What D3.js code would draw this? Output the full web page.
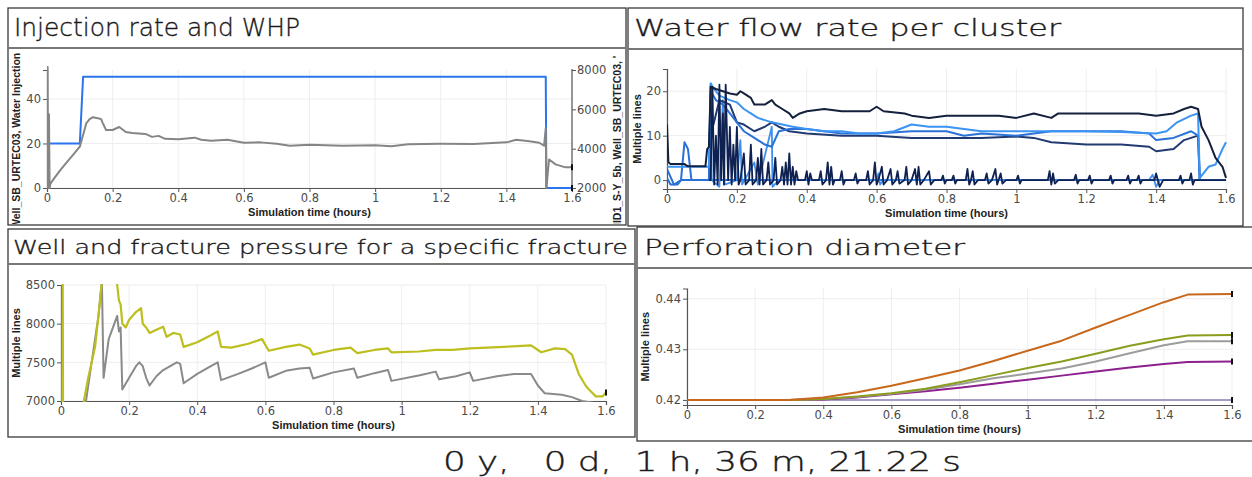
<!DOCTYPE html>
<html><head><meta charset="utf-8">
<script src="https://cdn.jsdelivr.net/npm/d3@7"></script>
<style>
html,body{margin:0;padding:0;background:#fff;}
svg{display:block;}
</style></head>
<body>
<script>
// ---------------- DATA ----------------
const xTicks = [0, 0.2, 0.4, 0.6, 0.8, 1, 1.2, 1.4, 1.6];
const xTickLabels = ["0", "0.2", "0.4", "0.6", "0.8", "1", "1.2", "1.4", "1.6"];
const xLabel = "Simulation time (hours)";

// Panel 1: Injection rate and WHP
const p1Title = "Injection rate and WHP";
const p1LeftTicks = [0, 20, 40];
const p1RightTicks = [2000, 4000, 6000, 8000];
const p1LeftLabel = "Well_SB_URTEC03, Water Injection";
const p1RightLabel = "IID1_S-Y_5b, Well_SB_URTEC03, '";
const injectionRate = [[0,0],[0.004,0],[0.005,20],[0.1,20],[0.11,50],[1.52,50],[1.522,0],[1.6,0]];
const whp = [[0,2000],[0.002,8150],[0.003,2000],[0.006,5750],[0.008,2000],[0.01,2200],[0.02,2450],[0.04,2900],[0.06,3300],[0.08,3700],[0.1,4100],[0.11,4700],[0.12,5300],[0.13,5500],[0.14,5600],[0.155,5550],[0.165,5500],[0.17,5300],[0.18,4950],[0.2,4950],[0.22,5100],[0.24,4850],[0.26,4800],[0.3,4750],[0.32,4600],[0.34,4650],[0.36,4500],[0.4,4480],[0.45,4560],[0.47,4450],[0.5,4400],[0.55,4450],[0.6,4300],[0.65,4320],[0.7,4250],[0.74,4150],[0.8,4200],[0.9,4150],[1.0,4170],[1.05,4120],[1.1,4230],[1.2,4250],[1.3,4240],[1.4,4320],[1.43,4450],[1.47,4380],[1.5,4300],[1.515,4150],[1.52,5050],[1.522,2000],[1.53,3450],[1.55,3200],[1.58,3050],[1.6,3050]];

// Panel 2: Water flow rate per cluster
const p2Title = "Water flow rate per cluster";
const p2YTicks = [0, 10, 20];
const p2YLabel = "Multiple lines";
const clusterA = [[0,12.5],[0.004,4],[0.01,3.6],[0.05,3.6],[0.06,3.1],[0.11,3.1],[0.115,7],[0.12,7.5],[0.125,21],[0.14,20.5],[0.16,20],[0.18,19.5],[0.2,19.2],[0.21,20],[0.22,19.5],[0.24,18.5],[0.25,17],[0.28,17],[0.3,18],[0.31,17],[0.33,16],[0.35,15],[0.36,14],[0.38,15],[0.4,15.5],[0.45,16],[0.5,15.5],[0.58,15.5],[0.6,16.5],[0.62,15.5],[0.68,15],[0.7,14.5],[0.75,14],[0.8,14.5],[0.9,14.5],[0.95,14.5],[1.0,14],[1.05,15],[1.1,14],[1.12,15],[1.2,15],[1.3,15],[1.35,15],[1.4,14.5],[1.45,15],[1.48,16],[1.5,16.5],[1.52,16],[1.53,12],[1.55,9],[1.57,5],[1.59,3],[1.6,0.5]];
const clusterB = [[0,3],[0.05,3],[0.1,3],[0.12,3],[0.125,21.8],[0.13,21],[0.15,19],[0.18,18],[0.2,17.5],[0.22,16],[0.24,15],[0.26,14],[0.28,13.5],[0.3,13],[0.33,12.5],[0.36,12],[0.4,11.5],[0.45,11],[0.5,11],[0.55,10.5],[0.6,10.5],[0.65,11],[0.7,12.5],[0.75,12],[0.8,12],[0.85,11.5],[0.9,11],[1.0,11],[1.1,11],[1.2,11],[1.3,10.8],[1.4,10.5],[1.43,11],[1.46,13],[1.5,14.5],[1.52,15],[1.525,0],[1.6,0]];
const clusterC = [[0,2.5],[0.02,-1],[0.04,0],[0.05,8.5],[0.06,7],[0.07,0],[0.12,0],[0.125,20],[0.14,18],[0.16,17],[0.18,15],[0.2,13],[0.22,11],[0.25,9.5],[0.28,8],[0.3,7.5],[0.32,11],[0.35,11.5],[0.4,11.5],[0.45,11],[0.5,10.5],[0.6,10.5],[0.7,11],[0.8,11],[0.85,10],[0.9,10.5],[1.0,10],[1.1,11],[1.2,11],[1.3,11],[1.38,10.5],[1.4,9],[1.45,9.5],[1.5,11],[1.52,10],[1.525,0],[1.6,0]];
const clusterD = [[0.12,0],[0.125,10],[0.15,18],[0.18,17],[0.2,13],[0.22,12.5],[0.25,11],[0.28,12],[0.3,13],[0.32,12],[0.35,11],[0.4,10.5],[0.5,10],[0.6,10],[0.7,9.5],[0.8,9.5],[0.9,9.5],[1.0,9.8],[1.05,9.5],[1.1,8.5],[1.2,8],[1.3,8],[1.38,7.5],[1.4,6.5],[1.45,7],[1.48,9],[1.52,10],[1.525,0],[1.6,0]];
const clusterE = [[1.52,0],[1.55,3],[1.57,3.5],[1.59,7],[1.6,8.5]];
const clusterZero = [[0,0.5],[0.01,-1],[0.03,-1],[0.04,0],[1.6,0]];
const clusterSpikesBlue = [[0.12,0],[0.125,21.5],[0.128,0],[0.15,-1.5],[0.16,18],[0.165,-1],[0.2,0],[0.21,9],[0.215,-1],[0.25,4],[0.26,-1],[0.3,12],[0.302,-1.5],[0.32,0],[0.6,0],[0.605,1.5],[0.61,-1],[0.62,0],[1.38,0],[1.39,1.2],[1.4,-1.5],[1.41,0],[1.6,0]];
const clusterSpikesDark = [[0.12,0],[0.125,0],[0.13,21],[0.135,-1],[0.14,10],[0.145,-1],[0.15,21.5],[0.155,0],[0.16,15],[0.163,-1],[0.168,21.5],[0.175,0],[0.18,12],[0.185,-1],[0.19,8],[0.195,0],[0.2,12],[0.205,-1],[0.21,0],[0.22,6],[0.225,-1],[0.235,0],[0.24,8],[0.245,-1],[0.255,0],[0.26,5],[0.265,-1],[0.27,7],[0.275,-1],[0.285,0],[0.29,4],[0.295,-1],[0.305,0],[0.31,5],[0.315,-1],[0.325,0],[0.33,3],[0.335,-1],[0.34,4],[0.345,-1],[0.35,6],[0.355,-1],[0.36,3],[0.365,-1],[0.37,2],[0.375,0],[0.395,0],[0.4,2],[0.405,-1],[0.41,1.5],[0.415,0],[0.435,0],[0.44,2],[0.445,-1],[0.455,0],[0.46,4],[0.465,-1],[0.47,3],[0.475,-1],[0.48,0],[0.495,0],[0.5,2],[0.505,-1],[0.51,0],[0.535,0],[0.54,1.5],[0.545,-0.8],[0.55,0],[0.57,0],[0.575,2],[0.58,-1],[0.59,0],[0.595,4],[0.6,-1],[0.605,0],[0.615,3],[0.62,-1],[0.63,0],[0.64,2.5],[0.645,-1],[0.655,0],[0.66,2],[0.665,-0.8],[0.68,0],[0.685,3],[0.69,-1],[0.7,0],[0.71,2.5],[0.715,-1],[0.72,3],[0.725,-1],[0.735,0],[0.75,2],[0.755,-1],[0.765,0],[0.785,0],[0.79,1],[0.795,-0.8],[0.8,0],[0.815,0],[0.82,1],[0.825,-0.8],[0.83,0],[0.855,0],[0.86,2.5],[0.865,-1],[0.87,0],[0.875,2],[0.88,-1],[0.89,0],[0.91,0],[0.915,1.5],[0.92,-0.8],[0.93,0],[0.94,2.5],[0.945,-1],[0.955,1.5],[0.96,-0.8],[0.97,0],[1.0,0],[1.005,1],[1.01,-0.8],[1.015,0],[1.09,0],[1.095,2],[1.1,-1],[1.105,1.5],[1.11,-0.8],[1.12,0],[1.165,0],[1.17,1.2],[1.175,-0.8],[1.18,0],[1.205,0],[1.21,1],[1.215,-0.8],[1.22,0],[1.265,0],[1.27,1],[1.275,-0.8],[1.28,0],[1.315,0],[1.32,1],[1.325,-0.8],[1.33,0],[1.345,0],[1.35,1],[1.355,-0.8],[1.36,0],[1.395,0],[1.4,1.5],[1.41,-1.5],[1.42,0],[1.465,0],[1.47,1],[1.475,-0.8],[1.48,0],[1.495,0],[1.5,1.5],[1.505,-1],[1.51,0],[1.6,0]];

// Panel 3: Well and fracture pressure
const p3Title = "Well and fracture pressure for a specific fracture";
const p3YTicks = [7000, 7500, 8000, 8500];
const fracturePressure = [[0.004,6900],[0.005,8600],[0.006,6900],[0.065,6950],[0.08,7300],[0.1,7700],[0.11,8100],[0.12,8550],[0.16,8600],[0.165,8500],[0.17,8300],[0.175,8250],[0.18,8000],[0.19,7950],[0.2,8050],[0.22,8150],[0.235,8200],[0.24,8000],[0.25,7950],[0.26,7880],[0.28,7920],[0.3,7960],[0.31,7830],[0.33,7880],[0.34,7870],[0.35,7860],[0.36,7700],[0.4,7760],[0.44,7850],[0.46,7900],[0.47,7700],[0.5,7690],[0.55,7740],[0.59,7800],[0.61,7650],[0.66,7700],[0.7,7730],[0.73,7680],[0.74,7600],[0.8,7660],[0.85,7690],[0.87,7620],[0.92,7660],[0.96,7680],[0.97,7630],[1.05,7640],[1.1,7660],[1.15,7660],[1.2,7680],[1.25,7690],[1.3,7700],[1.38,7720],[1.41,7630],[1.45,7680],[1.48,7670],[1.5,7600],[1.52,7350],[1.54,7200],[1.55,7150],[1.57,7060],[1.59,7060],[1.6,7110]];
const wellPressure = [[0.07,6900],[0.09,7500],[0.11,8100],[0.12,8550],[0.125,7300],[0.14,7800],[0.165,8100],[0.17,7900],[0.175,7950],[0.18,7150],[0.2,7300],[0.22,7450],[0.23,7500],[0.24,7450],[0.25,7300],[0.26,7200],[0.28,7320],[0.3,7400],[0.34,7500],[0.35,7480],[0.36,7230],[0.4,7350],[0.44,7450],[0.46,7500],[0.47,7270],[0.52,7350],[0.56,7420],[0.6,7500],[0.61,7300],[0.66,7390],[0.7,7420],[0.73,7430],[0.74,7290],[0.8,7370],[0.86,7420],[0.87,7300],[0.92,7360],[0.96,7400],[0.97,7260],[1.05,7330],[1.1,7380],[1.11,7280],[1.16,7320],[1.2,7370],[1.21,7260],[1.28,7320],[1.33,7350],[1.38,7350],[1.4,7200],[1.42,7100],[1.47,7080],[1.5,7050],[1.53,7000],[1.6,6950]];

// Panel 4: Perforation diameter
const p4Title = "Perforation diameter";
const p4YTicks = [0.42, 0.43, 0.44];
const perfOrange = [[0,0.42],[0.3,0.42],[0.4,0.4205],[0.5,0.4215],[0.6,0.4228],[0.7,0.4243],[0.8,0.4258],[0.9,0.4277],[1.0,0.4297],[1.1,0.4317],[1.2,0.4343],[1.3,0.4368],[1.4,0.4393],[1.47,0.4408],[1.6,0.4409]];
const perfOlive = [[0,0.42],[0.3,0.42],[0.4,0.4202],[0.5,0.4207],[0.6,0.4213],[0.7,0.4222],[0.8,0.4235],[0.9,0.4249],[1.0,0.4263],[1.1,0.4276],[1.2,0.4291],[1.3,0.4307],[1.4,0.4320],[1.47,0.4327],[1.6,0.4328]];
const perfGray = [[0,0.42],[0.3,0.42],[0.4,0.4202],[0.5,0.4206],[0.6,0.4212],[0.7,0.4220],[0.8,0.4231],[0.9,0.4243],[1.0,0.4252],[1.1,0.4262],[1.2,0.4276],[1.3,0.4292],[1.4,0.4308],[1.47,0.4316],[1.6,0.4316]];
const perfPurple = [[0,0.42],[0.3,0.42],[0.4,0.4201],[0.5,0.4205],[0.6,0.4211],[0.7,0.4217],[0.8,0.4224],[0.9,0.4232],[1.0,0.4240],[1.1,0.4248],[1.2,0.4256],[1.3,0.4264],[1.4,0.4271],[1.47,0.4275],[1.6,0.4276]];
const perfFlat = [[0,0.42],[1.6,0.42]];

const timestamp = "0 y,   0 d,  1 h, 36 m, 21.22 s";

// ---------------- DRAW ----------------
const W = 1252, H = 477;
const svg = d3.select("body").append("svg").attr("width", W).attr("height", H);
const titleFont = "'DejaVu Sans', sans-serif";
const tickFont = "'DejaVu Sans', sans-serif";
const labFont = "'Liberation Sans', Arial, sans-serif";

let clipId = 0;
function panelFrame(b) {
  const g = svg.append("g");
  g.append("rect").attr("x", b.x0).attr("y", b.y0).attr("width", b.x1 - b.x0).attr("height", b.y1 - b.y0)
    .attr("fill", "#fff").attr("stroke", "#3a3a3a").attr("stroke-width", 1.3);
  g.append("line").attr("x1", b.x0).attr("x2", b.x1).attr("y1", b.sep).attr("y2", b.sep)
    .attr("stroke", "#777").attr("stroke-width", 2);
  g.append("text").attr("x", b.tx).attr("y", b.ty).attr("font-family", titleFont).attr("font-weight", 300)
    .attr("font-size", b.fs).attr("fill", "#1a1a1a").attr("stroke", "#1a1a1a").attr("stroke-width", 0.35)
    .attr("textLength", b.tl).attr("lengthAdjust", "spacingAndGlyphs")
    .text(b.title);
  const id = "clip" + (clipId++);
  svg.append("clipPath").attr("id", id).append("rect")
    .attr("x", b.x0 + 1).attr("y", b.sep + 1).attr("width", b.x1 - b.x0 - 2).attr("height", b.y1 - b.sep - 2);
  return g.append("g").attr("clip-path", `url(#${id})`);
}

function styleAxis(ax) {
  ax.selectAll(".domain").attr("stroke", "#555").attr("stroke-width", 1.2);
  ax.selectAll(".tick line").attr("stroke", "#555");
  ax.selectAll("text").attr("font-family", tickFont).attr("font-size", 11.5).attr("fill", "#4a4a4a");
}

function plot(g, x, y, yTicks, yFmt) {
  g.append("g").selectAll("line").data(xTicks).join("line")
    .attr("x1", d => x(d)).attr("x2", d => x(d)).attr("y1", y.range()[0]).attr("y2", y.range()[1])
    .attr("stroke", "#eeeeee").attr("stroke-width", 1);
  g.append("g").selectAll("line").data(yTicks).join("line")
    .attr("x1", x.range()[0]).attr("x2", x.range()[1]).attr("y1", d => y(d)).attr("y2", d => y(d))
    .attr("stroke", "#eeeeee").attr("stroke-width", 1);
  const xa = g.append("g").attr("transform", `translate(0,${y.range()[0]})`)
    .call(d3.axisBottom(x).tickValues(xTicks).tickFormat((d, i) => xTickLabels[i]).tickSize(4).tickPadding(2));
  styleAxis(xa);
  const ya = g.append("g").attr("transform", `translate(${x.range()[0]},0)`)
    .call(d3.axisLeft(y).tickValues(yTicks).tickFormat(yFmt).tickSize(4).tickPadding(2));
  styleAxis(ya);
  g.append("text").attr("x", (x.range()[0] + x.range()[1]) / 2).attr("y", y.range()[0] + 28)
    .attr("text-anchor", "middle").attr("font-family", labFont).attr("font-weight", "bold")
    .attr("font-size", 11).attr("fill", "#222").text(xLabel);
}

function addLine(g, x, y, data, color, w, clip) {
  const line = d3.line().x(d => x(d[0])).y(d => y(d[1]));
  g.append("path").datum(data).attr("d", line).attr("fill", "none").attr("stroke", color)
    .attr("stroke-width", w).attr("stroke-linejoin", "round").attr("clip-path", clip ? `url(#${clip})` : null);
}
function plotClip(x, y) {
  const id = "pc" + (clipId++);
  const [r0, r1] = y.range();
  svg.append("clipPath").attr("id", id).append("rect")
    .attr("x", x.range()[0]).attr("y", Math.min(r0, r1) - 1).attr("width", x.range()[1] - x.range()[0] + 2).attr("height", Math.abs(r0 - r1) + 2);
  return id;
}
function endMark(g, px, py) {
  g.append("line").attr("x1", px).attr("x2", px).attr("y1", py - 3).attr("y2", py + 3)
    .attr("stroke", "#111").attr("stroke-width", 2);
}

// ---- Panel 1
{
  const g = panelFrame({x0: 8, y0: 8, x1: 626, y1: 225, sep: 48, title: p1Title, tx: 14, ty: 36, fs: 25, tl: 286});
  const x = d3.scaleLinear().domain([0, 1.6]).range([47, 572]);
  const y = d3.scaleLinear().domain([0, 53]).range([188, 70]);
  const yR = d3.scaleLinear().domain([2000, 8000]).range([188, 70]);
  plot(g, x, y, p1LeftTicks, d3.format("d"));
  const ra = g.append("g").attr("transform", `translate(${x.range()[1]},0)`)
    .call(d3.axisRight(yR).tickValues(p1RightTicks).tickFormat(d3.format("d")).tickSize(4).tickPadding(1));
  styleAxis(ra);
  ra.select(".domain").attr("d", `M0,${yR(1950)}V${yR(8050)}`);
  const c = plotClip(x, d3.scaleLinear().range([188, 66]));
  addLine(g, x, y, injectionRate, "#2a75ee", 2, c);
  addLine(g, x, yR, whp, "#858585", 2, c);
  endMark(g, x(1.6), yR(3050));
  endMark(g, x(1.6), y(0));
  g.append("text").attr("transform", `translate(20,229) rotate(-90)`).attr("font-family", labFont)
    .attr("font-weight", "bold").attr("font-size", 10.5).attr("fill", "#222").text(p1LeftLabel);
  g.append("text").attr("transform", `translate(621,226) rotate(-90)`).attr("font-family", labFont)
    .attr("font-weight", "bold").attr("font-size", 10.5).attr("fill", "#222").text(p1RightLabel);
}

// ---- Panel 2
{
  const g = panelFrame({x0: 628, y0: 8, x1: 1243, y1: 226, sep: 49, title: p2Title, tx: 634, ty: 36, fs: 23, tl: 427});
  const x = d3.scaleLinear().domain([0, 1.6]).range([667, 1226]);
  const y = d3.scaleLinear().domain([-2, 25]).range([189, 69]);
  plot(g, x, y, p2YTicks, d3.format("d"));
  const c = plotClip(x, y);
  addLine(g, x, y, clusterZero, "#2a6fd6", 2, c);
  addLine(g, x, y, clusterSpikesBlue, "#3d8ff0", 1.8, c);
  addLine(g, x, y, clusterD, "#213a72", 2, c);
  addLine(g, x, y, clusterC, "#2a72d8", 2, c);
  addLine(g, x, y, clusterB, "#3b93f3", 2, c);
  addLine(g, x, y, clusterE, "#3b93f3", 2, c);
  addLine(g, x, y, clusterSpikesDark, "#0e2150", 1.8, c);
  addLine(g, x, y, clusterA, "#14203c", 2, c);
  g.append("text").attr("transform", `translate(${641},${(y.range()[0] + y.range()[1]) / 2}) rotate(-90)`)
    .attr("text-anchor", "middle").attr("font-family", labFont).attr("font-weight", "bold")
    .attr("font-size", 11).attr("fill", "#222").text(p2YLabel);
}

// ---- Panel 3
{
  const g = panelFrame({x0: 8, y0: 229, x1: 635, y1: 437, sep: 264, title: p3Title, tx: 13, ty: 254, fs: 19, tl: 615});
  const x = d3.scaleLinear().domain([0, 1.6]).range([61, 606]);
  const y = d3.scaleLinear().domain([7000, 8500]).range([401, 285]);
  plot(g, x, y, p3YTicks, d3.format("d"));
  const c = plotClip(x, y);
  addLine(g, x, y, wellPressure, "#8a8a8a", 2, c);
  addLine(g, x, y, fracturePressure, "#bcbf1e", 2.2, c);
  endMark(g, x(1.6), y(7110));
  g.append("text").attr("transform", `translate(${20},${(y.range()[0] + y.range()[1]) / 2}) rotate(-90)`)
    .attr("text-anchor", "middle").attr("font-family", labFont).attr("font-weight", "bold")
    .attr("font-size", 11).attr("fill", "#222").text(p2YLabel);
}

// ---- Panel 4
{
  const g = panelFrame({x0: 637, y0: 227, x1: 1254, y1: 441, sep: 268, title: p4Title, tx: 644, ty: 255, fs: 22, tl: 321});
  const x = d3.scaleLinear().domain([0, 1.6]).range([687, 1232]);
  const y = d3.scaleLinear().domain([0.419, 0.442]).range([405, 288.5]);
  plot(g, x, y, p4YTicks, d3.format(".2f"));
  const c = plotClip(x, y);
  addLine(g, x, y, perfFlat, "#a69ccc", 2, c);
  addLine(g, x, y, perfPurple, "#8e1f8e", 2, c);
  addLine(g, x, y, perfGray, "#9c9c9c", 2, c);
  addLine(g, x, y, perfOlive, "#8c9c1e", 2, c);
  addLine(g, x, y, perfOrange, "#c7681d", 2, c);
  [perfOrange, perfOlive, perfGray, perfPurple, perfFlat].forEach(s => endMark(g, x(1.6), y(s[s.length - 1][1])));
  g.append("text").attr("transform", `translate(${649},${(y.range()[0] + y.range()[1]) / 2}) rotate(-90)`)
    .attr("text-anchor", "middle").attr("font-family", labFont).attr("font-weight", "bold")
    .attr("font-size", 11).attr("fill", "#222").text(p2YLabel);
}

// ---- Timestamp
svg.append("text").attr("x", 443).attr("y", 471).attr("font-family", titleFont).attr("font-weight", 300)
  .attr("font-size", 27).attr("fill", "#1a1a1a").attr("stroke", "#1a1a1a").attr("stroke-width", 0.4)
  .attr("xml:space", "preserve").style("white-space", "pre")
  .attr("textLength", 518).attr("lengthAdjust", "spacingAndGlyphs").text(timestamp);
</script>
</body></html>
